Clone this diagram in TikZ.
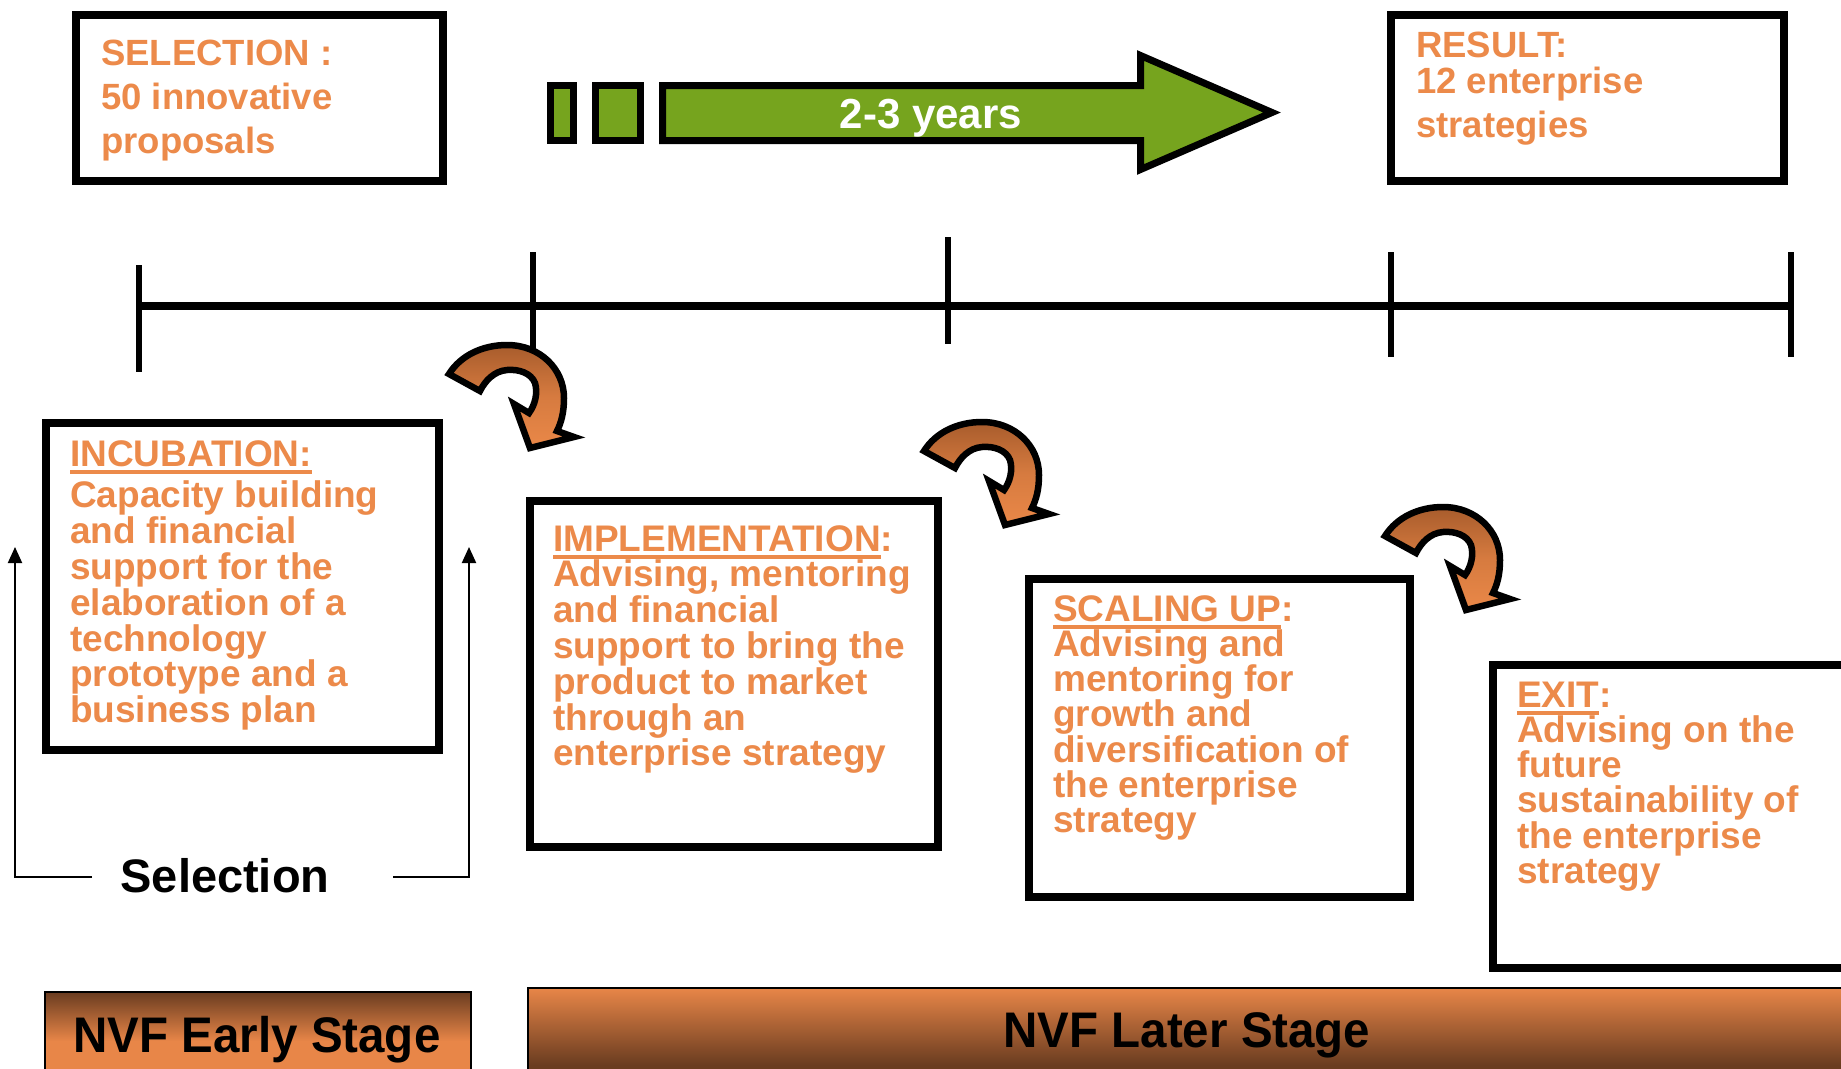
\documentclass[tikz,border=0pt]{standalone}
\usepackage{graphicx}
\usepackage{fontspec}
\setmainfont{Liberation Sans}
\usetikzlibrary{arrows.meta}

\definecolor{txtorange}{RGB}{236,138,74}
\definecolor{barorange}{RGB}{232,134,72}
\definecolor{bardark}{RGB}{106,60,32}
\definecolor{arrowgreen}{RGB}{118,164,30}
\definecolor{bendorange}{RGB}{234,136,72}
\definecolor{benddark}{RGB}{168,92,44}

% underlined heading word with a rule scaled to the large type
\newcommand\titleul[1]{\setbox0\hbox{#1}\rlap{\rule[-7.5pt]{\wd0}{3.5pt}}\box0}
% left-aligned stack of lines whose baseline is the first line's baseline
\newcommand\linestack[1]{\vtop{\lineskiplimit=-\maxdimen\halign{##\hfil\cr#1\crcr}}}

\tikzset{
  box/.style={draw=black, line width=8pt},
  bodytext/.style={text=txtorange, anchor=base west, inner sep=0pt},
  tickmark/.style={line width=6pt},
  greenbar/.style={fill=arrowgreen, draw=black, line width=7pt, line join=miter},
  bendstyle/.style={draw=black, line width=6.5pt, line join=miter,
                    top color=benddark, bottom color=bendorange, middle color=bendorange!70!benddark},
  selline/.style={line width=2pt, -{Triangle[width=14pt,length=16pt]}},
  stagelabel/.style={anchor=base, inner sep=0pt,
                     font=\bfseries\fontsize{50}{50}\selectfont},
  bendarrow/.pic={
    \path[bendstyle] (2,1) .. controls (14,-18) and (36,-28) .. (60,-28)
      .. controls (93,-28) and (117,-4) .. (117,25)
      .. controls (117,40) and (114,50) .. (110,58)
      -- (127,64) -- (83,75) -- (67,31) -- (82,40)
      .. controls (88,32) and (91,20) .. (88,10)
      .. controls (84,0) and (72,-4) .. (60,-3)
      .. controls (47,-2) and (38,8) .. (33,18) -- cycle;
  }
}

\begin{document}
\begin{tikzpicture}[x=1pt, y=-1pt]
\clip (0,0) rectangle (1841,1068);
\fill[white] (0,0) rectangle (1841,1068);

% --- top boxes ---
\draw[box] (76,15) rectangle (443,181);
\node[bodytext, font=\bfseries\fontsize{36.5}{44}\selectfont] (seltext) at (101,65)
  {\linestack{SELECTION :\cr 50 innovative\cr proposals}};

\draw[box] (1391,15) rectangle (1784,181);
\node[bodytext, font=\bfseries\fontsize{36.5}{36}\selectfont] (restext) at (1416,57)
  {\linestack{RESULT:\cr 12 enterprise\cr\noalign{\vskip8pt} strategies}};

% --- duration arrow ---
\draw[greenbar] (550.5,85.5) rectangle (573.5,140.5);
\draw[greenbar] (595.5,85.5) rectangle (640.5,140.5);
\draw[greenbar] (662.5,85.5) -- (1140.5,85.5) -- (1140.5,55.5) -- (1272,112.5)
  -- (1140.5,169.5) -- (1140.5,140.5) -- (662.5,140.5) -- cycle;
\node[anchor=base, inner sep=0pt, text=white, font=\bfseries\fontsize{42}{42}\selectfont]
  (years) at (931,128) {2-3 years};

% --- timeline ---
\draw[line width=8pt] (139,306) -- (1791,306);
\draw[tickmark] (139,265) -- (139,372);
\draw[tickmark] (533,252) -- (533,355);
\draw[tickmark] (948,237) -- (948,344);
\draw[tickmark] (1391,252) -- (1391,357);
\draw[tickmark] (1791,252) -- (1791,357);

% --- phase boxes ---
\draw[box] (46,423) rectangle (439,750);
\node[bodytext, font=\bfseries\fontsize{37}{35.8}\selectfont] (inctext) at (70,466)
  {\linestack{\titleul{INCUBATION:}\cr\noalign{\vskip6pt}
   Capacity building\cr and financial\cr support for the\cr elaboration of a\cr
   technology\cr prototype and a\cr business plan}};

\draw[box] (530,501) rectangle (938,847);
\node[bodytext, font=\bfseries\fontsize{37}{35.8}\selectfont] (imptext) at (553,551)
  {\linestack{\titleul{IMPLEMENTATION}:\cr Advising, mentoring\cr and financial\cr
   support to bring the\cr product to market\cr through an\cr enterprise strategy}};

\draw[box] (1029,579) rectangle (1410,897);
\node[bodytext, font=\bfseries\fontsize{37}{35.3}\selectfont] (scaletext) at (1053,621)
  {\linestack{\titleul{SCALING UP}:\cr Advising and\cr mentoring for\cr growth and\cr
   diversification of\cr the enterprise\cr strategy}};

\draw[box] (1493,665) rectangle (1900,968);
\node[bodytext, font=\bfseries\fontsize{37}{35.3}\selectfont] (exittext) at (1517,707)
  {\linestack{\titleul{EXIT}:\cr Advising on the\cr future\cr sustainability of\cr
   the enterprise\cr strategy}};

% --- curved transition arrows ---
\pic at (447,373) {bendarrow};
\pic at (922,450) {bendarrow};
\pic at (1383,535) {bendarrow};

% --- selection bracket ---
\node[anchor=base, inner sep=0pt, font=\bfseries\fontsize{47}{47}\selectfont]
  (sel) at (225,892) {Selection};
\coordinate (selL) at (92,877);
\coordinate (selR) at (393,877);
\coordinate (tipL) at (15,547);
\coordinate (tipR) at (469,547);
\draw[selline] (selL) -| (tipL);
\draw[selline] (selR) -| (tipR);

% --- stage bars ---
\shadedraw[draw=black, line width=2.5pt, top color=bardark, bottom color=barorange,
  middle color=barorange] (45,992) rectangle (471,1090);
\node[stagelabel] (early) at (257,1052) {\scalebox{0.95}[1]{NVF Early Stage}};

\shadedraw[draw=black, line width=2.5pt, top color=barorange, bottom color=bardark,
  middle color=bardark] (528,988) rectangle (1900,1142);
\node[stagelabel] (later) at (1187,1047) {\scalebox{0.95}[1]{NVF Later Stage}};
\end{tikzpicture}
\end{document}
